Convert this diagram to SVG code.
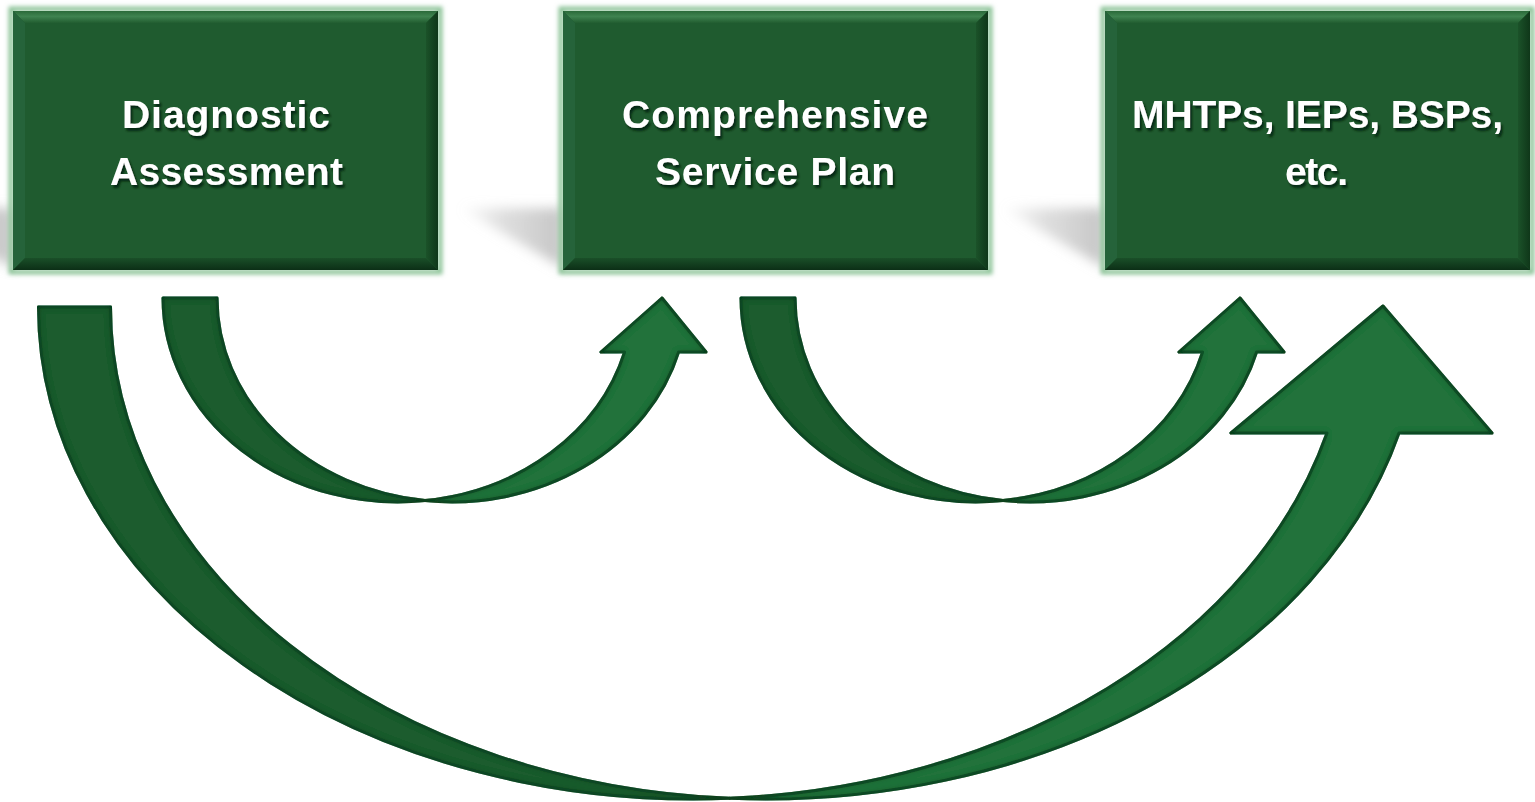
<svg xmlns="http://www.w3.org/2000/svg" xmlns:xlink="http://www.w3.org/1999/xlink" width="1535" height="802" viewBox="0 0 1535 802">
  <style>
    .label { font-family: "Liberation Sans", Arial, sans-serif; font-weight: bold; font-size: 39px; fill: #ffffff; filter: url(#textShadow); }
    .band-back { fill: #1e5c2f; stroke: #15502a; stroke-width: 3; stroke-linejoin: round; }
    .band-front { fill: #23723a; stroke: #15522a; stroke-width: 3; stroke-linejoin: round; }
    .floor-shadow { fill: url(#shadowFade); filter: url(#softBlur); }
  </style>
  <defs>
    <filter id="textShadow" x="-10%" y="-30%" width="130%" height="170%">
      <feGaussianBlur in="SourceAlpha" stdDeviation="1.2" result="b"/>
      <feOffset dx="2" dy="2.5" result="o"/>
      <feFlood flood-color="#06200d" flood-opacity="0.85"/>
      <feComposite in2="o" operator="in" result="s"/>
      <feMerge><feMergeNode in="s"/><feMergeNode in="SourceGraphic"/></feMerge>
    </filter>
    <filter id="softBlur" x="-30%" y="-30%" width="160%" height="160%">
      <feGaussianBlur stdDeviation="6"/>
    </filter>
    <filter id="glow" x="-5%" y="-5%" width="110%" height="110%">
      <feGaussianBlur stdDeviation="2.2"/>
    </filter>
    <filter id="innerShade" x="-5%" y="-5%" width="110%" height="110%">
      <feFlood flood-color="#0b3516" result="c"/>
      <feComposite in="c" in2="SourceAlpha" operator="out" result="inv"/>
      <feGaussianBlur in="inv" stdDeviation="3.5" result="bl"/>
      <feComposite in="bl" in2="SourceAlpha" operator="in" result="inner"/>
      <feMerge><feMergeNode in="SourceGraphic"/><feMergeNode in="inner"/></feMerge>
    </filter>
    <linearGradient id="shadowFade" x1="0" y1="0" x2="1" y2="0">
      <stop offset="0" stop-color="#c8c8c8" stop-opacity="0"/>
      <stop offset="0.4" stop-color="#cacaca" stop-opacity="0.6"/>
      <stop offset="1" stop-color="#c2c2c2" stop-opacity="0.95"/>
    </linearGradient>
    <linearGradient id="bevelTop" x1="0" y1="0" x2="0" y2="1">
      <stop offset="0" stop-color="#2a6a39"/>
      <stop offset="0.45" stop-color="#3f8350"/>
      <stop offset="1" stop-color="#215d30"/>
    </linearGradient>
    <linearGradient id="bevelBottom" x1="0" y1="0" x2="0" y2="1">
      <stop offset="0" stop-color="#1a4f28"/>
      <stop offset="1" stop-color="#0c2f16"/>
    </linearGradient>
    <linearGradient id="bevelRight" x1="0" y1="0" x2="1" y2="0">
      <stop offset="0" stop-color="#1b5229"/>
      <stop offset="1" stop-color="#0f3719"/>
    </linearGradient>

    <!-- bevelled green panel, 425 x 259 -->
    <g id="panel">
      <rect x="-2" y="-2" width="429" height="263" fill="none" stroke="#8ec49a" stroke-width="5" filter="url(#glow)"/>
      <rect x="0" y="0" width="425" height="259" fill="#1f5b2f"/>
      <polygon points="0,0 425,0 413,12 12,12" fill="url(#bevelTop)"/>
      <polygon points="0,0 12,12 12,247 0,259" fill="#25633a"/>
      <polygon points="425,0 425,259 413,247 413,12" fill="url(#bevelRight)"/>
      <polygon points="0,259 425,259 413,247 12,247" fill="url(#bevelBottom)"/>
    </g>
  </defs>

  <rect width="1535" height="802" fill="#ffffff"/>

  <!-- floor shadows cast to the left of each panel -->
  <g id="shadows">
    <polygon class="floor-shadow" points="-95,208 13,208 13,268"/>
    <polygon class="floor-shadow" points="460,208 563,208 563,268"/>
    <polygon class="floor-shadow" points="1002,208 1105,208 1105,268"/>
  </g>

  <!-- curved arrows -->
  <g id="connectors" filter="url(#innerShade)">
    <!-- Diagnostic Assessment -> Comprehensive Service Plan -->
    <g id="arrow-assessment-to-plan">
      <path class="band-back" d="M163 298 A235 204 0 0 0 425 500.6 A235 204 0 0 1 217 298 Z"/>
      <path class="band-front" d="M425 500.6 A235 204 0 0 0 678.6 352 L706 352 L662 298 L601 352 L624.6 352 A235 204 0 0 1 425 500.6 Z"/>
    </g>
    <!-- Comprehensive Service Plan -> MHTPs -->
    <g id="arrow-plan-to-mhtps" transform="translate(578 0)">
      <path class="band-back" d="M163 298 A235 204 0 0 0 425 500.6 A235 204 0 0 1 217 298 Z"/>
      <path class="band-front" d="M425 500.6 A235 204 0 0 0 678.6 352 L706 352 L662 298 L601 352 L624.6 352 A235 204 0 0 1 425 500.6 Z"/>
    </g>
    <!-- Diagnostic Assessment -> MHTPs (long arc) -->
    <g id="arrow-assessment-to-mhtps">
      <path class="band-back" d="M38.5 307 A655.2 492 0 0 0 729.7 798.3 A655.2 492 0 0 1 110.5 307 Z"/>
      <path class="band-front" d="M729.7 798.3 A655.2 492 0 0 0 1399 433 L1492 433 L1383 306 L1231 433 L1327 433 A655.2 492 0 0 1 729.7 798.3 Z"/>
    </g>
  </g>

  <g id="node-diagnostic-assessment">
    <use xlink:href="#panel" href="#panel" x="13" y="11"/>
    <text class="label" x="122" y="128" textLength="208" lengthAdjust="spacing">Diagnostic</text>
    <text class="label" x="110" y="185" textLength="233" lengthAdjust="spacing">Assessment</text>
  </g>

  <g id="node-comprehensive-service-plan">
    <use xlink:href="#panel" href="#panel" x="563" y="11"/>
    <text class="label" x="622" y="128" textLength="306" lengthAdjust="spacing">Comprehensive</text>
    <text class="label" x="655" y="185" textLength="240" lengthAdjust="spacing">Service Plan</text>
  </g>

  <g id="node-mhtps">
    <use xlink:href="#panel" href="#panel" x="1105" y="11"/>
    <text class="label" x="1132" y="128" textLength="371" lengthAdjust="spacing">MHTPs, IEPs, BSPs,</text>
    <text class="label" x="1285" y="185" textLength="63" lengthAdjust="spacing">etc.</text>
  </g>
</svg>
